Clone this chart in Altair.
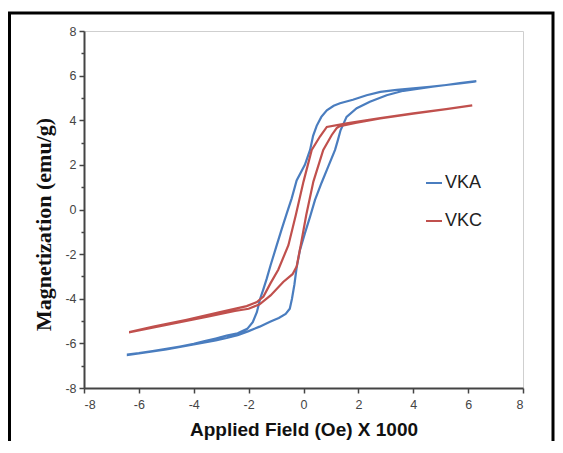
import altair as alt
import pandas as pd

# ---- data (field in kOe, magnetization in emu/g) ----
vka_desc_x = [6.3, 5.7, 5.2, 4.6, 4.0, 3.4, 2.8, 2.3, 1.8, 1.33, 1.1, 0.85, 0.65, 0.48, 0.35, 0.24,
              0.05, -0.25, -0.43, -0.61, -0.8, -1.0, -1.2, -1.34, -1.47, -1.58, -1.7, -1.85,
              -2.05, -2.4, -2.8, -3.2, -3.6, -4.0, -4.5, -5.0, -5.5, -6.0, -6.4]
vka_desc_y = [5.74, 5.65, 5.58, 5.5, 5.43, 5.36, 5.27, 5.12, 4.92, 4.76, 4.65, 4.45, 4.15, 3.75, 3.3, 2.67,
              2.0, 1.3, 0.5, -0.17, -0.9, -1.7, -2.5, -3.1, -3.6, -4.0, -4.6, -5.05,
              -5.35, -5.55, -5.65, -5.78, -5.9, -6.02, -6.14, -6.25, -6.35, -6.44, -6.5]

vka_asc_x = [-6.4, -6.0, -5.5, -5.0, -4.5, -4.0, -3.6, -3.2, -2.8, -2.4, -2.0, -1.6, -1.2, -0.9,
             -0.65, -0.5, -0.42, -0.33, -0.25, -0.13, 0.05, 0.24, 0.42, 0.66, 0.9, 1.15, 1.25, 1.35,
             1.57, 1.94, 2.42, 3.03, 3.64, 4.2, 4.7, 5.2, 5.7, 6.3]
vka_asc_y = [-6.52, -6.45, -6.36, -6.27, -6.16, -6.05, -5.96, -5.87, -5.76, -5.63, -5.45, -5.25, -5.02, -4.86,
             -4.68, -4.45, -4.0, -3.35, -2.6, -1.82, -1.07, -0.32, 0.43, 1.2, 1.92, 2.67, 3.1, 3.55,
             4.15, 4.54, 4.83, 5.12, 5.32, 5.42, 5.5, 5.58, 5.66, 5.75]

vkc_desc_x = [6.15, 5.2, 4.0, 2.8, 1.57, 0.85, 0.6, 0.3, 0.0, -0.28, -0.55, -0.92, -1.2, -1.46,
              -1.7, -2.07, -3.04, -4.26, -5.47, -6.32]
vkc_desc_y = [4.67, 4.5, 4.31, 4.1, 3.86, 3.7, 3.27, 2.67, 1.25, -0.25, -1.6, -2.7, -3.3, -3.9,
              -4.15, -4.33, -4.6, -4.94, -5.25, -5.48]

vkc_asc_x = [-6.32, -5.5, -4.5, -3.5, -2.5, -2.0, -1.6, -1.2, -0.74, -0.4, -0.25, -0.1, 0.1, 0.36,
             0.72, 1.03, 1.21, 1.33, 1.94, 2.8, 4.0, 5.2, 6.15]
vkc_asc_y = [-5.5, -5.3, -5.05, -4.8, -4.55, -4.45, -4.25, -3.85, -3.25, -2.9, -2.56, -1.6, -0.25, 1.25,
             2.67, 3.34, 3.65, 3.74, 3.89, 4.08, 4.3, 4.5, 4.67]

series_names = ["VKA", "VKC"]
series_colors = ["#4a7dbf", "#c0504d"]

rows = []
for name, xs, ys in [("VKA", vka_desc_x + vka_asc_x, vka_desc_y + vka_asc_y),
                     ("VKC", vkc_desc_x + vkc_asc_x, vkc_desc_y + vkc_asc_y)]:
    for i, (x, y) in enumerate(zip(xs, ys)):
        rows.append({"series": name, "field": x, "mag": y, "idx": i})
df = pd.DataFrame(rows)

x_ticks = [-8, -6, -4, -2, 0, 2, 4, 6, 8]
y_ticks = list(range(-8, 9))

lines = alt.Chart(df).mark_line(strokeWidth=2.2).encode(
    x=alt.X("field:Q", scale=alt.Scale(domain=[-8, 8], nice=False),
            axis=alt.Axis(values=x_ticks, title="Applied Field (Oe) X 1000", grid=False,
                          labelExpr="'' + datum.value",
                          tickSize=5, tickWidth=1.5, tickColor="#444",
                          domainColor="#444", domainWidth=2,
                          labelFont="Liberation Sans", labelFontSize=12.5, labelColor="#444",
                          labelPadding=5,
                          titleFont="Liberation Sans", titleFontSize=19, titleFontWeight="bold",
                          titleColor="#111", titleBaseline="alphabetic", titleY=47)),
    y=alt.Y("mag:Q", scale=alt.Scale(domain=[-8, 8], nice=False),
            axis=alt.Axis(values=y_ticks, title="Magnetization (emu/g)", grid=False,
                          labelExpr="datum.value % 2 === 0 ? '' + datum.value : ''",
                          tickSize={"condition": {"test": "datum.value % 2 !== 0", "value": 3}, "value": 5},
                          tickWidth=1.5, tickColor="#444",
                          domainColor="#444", domainWidth=2,
                          labelFont="Liberation Sans", labelFontSize=12.5, labelColor="#444",
                          labelPadding=3,
                          titleFont="Liberation Serif", titleFontSize=22, titleFontWeight="bold",
                          titleColor="#111", titleAngle=-90, titleBaseline="middle",
                          titleX=-41, titleY=193)),
    color=alt.Color("series:N", scale=alt.Scale(domain=series_names, range=series_colors),
                    legend=alt.Legend(title=None, orient="none", legendX=341, legendY=143,
                                      symbolType="stroke", symbolSize=256, symbolStrokeWidth=2,
                                      labelFont="Liberation Sans", labelFontSize=18,
                                      labelColor="#222", labelOffset=2, rowPadding=20,
                                      padding=0)),
    order="idx:Q",
)

border = alt.Chart(pd.DataFrame({"k": [0]})).mark_rect(
    fill=None, stroke="black", strokeWidth=3
).encode(
    x=alt.value(-74.5), x2=alt.value(469), y=alt.value(-18), y2=alt.value(440)
)

chart = alt.layer(lines, border).properties(
    width=439, height=357,
    autosize=alt.AutoSizeParams(type="none"),
    padding={"left": 76, "top": 23, "right": 32, "bottom": 53},
    background="white",
).configure_view(stroke="#cfcfcf", strokeWidth=1)

chart.save("out.html", embed_options={"renderer": "svg", "actions": False})
